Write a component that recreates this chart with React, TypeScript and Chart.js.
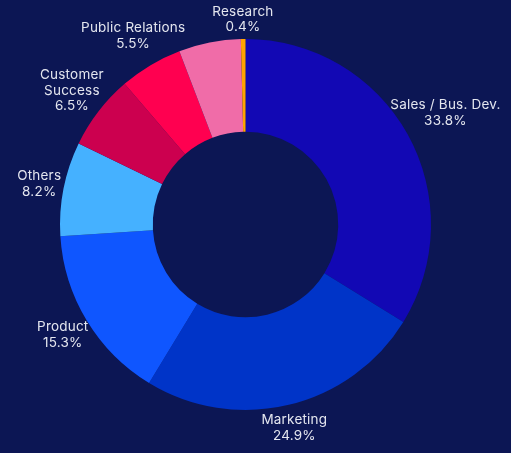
import React, { useEffect, useRef } from "react";
import { Chart, registerables } from "chart.js";

Chart.register(...registerables);

// ---- data ----
const categories: (string | string[])[] = [
  "Sales / Bus. Dev.",
  "Marketing",
  "Product",
  "Others",
  ["Customer", "Success"],
  "Public Relations",
  "",
  "Research",
];
const shares: number[] = [33.8, 24.9, 15.3, 8.2, 6.5, 5.5, 5.4, 0.4];
const showLabel: boolean[] = [true, true, true, true, true, true, false, true];

// ---- styles ----
const sliceColors = [
  "#1208b4",
  "#0034c8",
  "#0f56ff",
  "#45b1ff",
  "#cc004f",
  "#ff0050",
  "#f06ca8",
  "#ffa400",
];
const BG = "#0c1654";
const TEXT = "#e4e6ef";
const FONT = '13.5px "Inter", "Open Sans", sans-serif';
const LINE = 15.5;

const outLabels = {
  id: "outLabels",
  afterDatasetsDraw(chart: any) {
    const ctx = chart.ctx as CanvasRenderingContext2D;
    const meta = chart.getDatasetMeta(0);
    ctx.save();
    ctx.font = FONT;
    (ctx as any).letterSpacing = "0.2px";
    ctx.fillStyle = TEXT;
    ctx.textAlign = "center";
    ctx.textBaseline = "middle";
    meta.data.forEach((arc: any, i: number) => {
      if (!showLabel[i]) return;
      const { x, y, startAngle, endAngle, outerRadius } = arc.getProps(
        ["x", "y", "startAngle", "endAngle", "outerRadius"],
        true
      );
      const mid = (startAngle + endAngle) / 2;
      const vx = Math.cos(mid);
      const vy = Math.sin(mid);
      const name = categories[i];
      const lines = [
        ...(Array.isArray(name) ? name : [name]),
        shares[i].toFixed(1) + "%",
      ];
      const w = Math.max(...lines.map((l) => ctx.measureText(l).width));
      const h = lines.length * LINE;
      const proj = Math.abs(vx) * (w / 2) + Math.abs(vy) * (h / 2);
      const d = outerRadius + 10 + 0.6 * proj;
      let cx = x + vx * d;
      const cy = y + vy * d;
      cx = Math.min(Math.max(cx, w / 2 + 2), chart.width - w / 2 - 2);
      lines.forEach((l, k) =>
        ctx.fillText(l, cx, cy + (k - (lines.length - 1) / 2) * LINE)
      );
    });
    ctx.restore();
  },
};

export default function App() {
  const ref = useRef<HTMLCanvasElement>(null);

  useEffect(() => {
    if (!ref.current) return;
    const chart = new Chart(ref.current, {
      type: "doughnut",
      data: {
        labels: categories as any,
        datasets: [
          {
            data: shares,
            backgroundColor: sliceColors,
            borderWidth: 0,
            hoverOffset: 0,
          },
        ],
      },
      options: {
        responsive: false,
        animation: false,
        cutout: "50%",
        layout: { padding: { left: 60, right: 80, top: 39, bottom: 43 } },
        plugins: {
          legend: { display: false },
          tooltip: { enabled: false },
        },
        events: [],
      },
      plugins: [outLabels],
    });
    return () => chart.destroy();
  }, []);

  return (
    <div
      style={{
        position: "fixed",
        left: 0,
        top: 0,
        width: 511,
        height: 453,
        background: BG,
      }}
    >
      <canvas ref={ref} width={511} height={453} style={{ display: "block" }} />
    </div>
  );
}
